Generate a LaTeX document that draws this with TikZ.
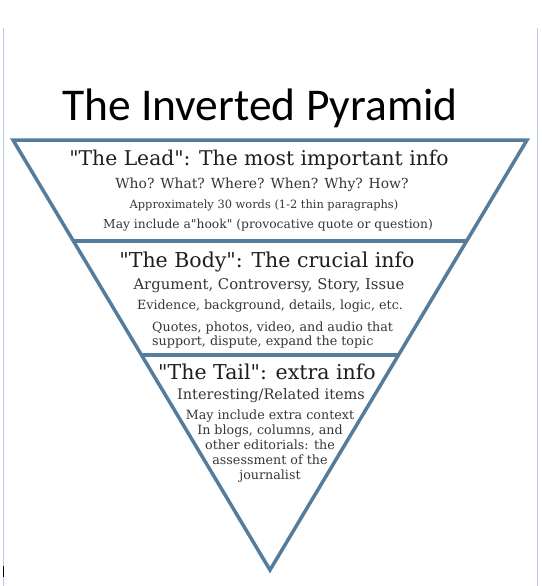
\documentclass[tikz,border=0pt]{standalone}
\usepackage{fontspec}
\newfontfamily\pyrfont{DejaVu Serif}
\newfontfamily\titlefont{Carlito}
\usetikzlibrary{positioning,calc}
\definecolor{pyrcol}{RGB}{84,124,156}
\definecolor{pagecol}{RGB}{182,202,236}
\definecolor{txtcol}{RGB}{30,30,30}

\begin{document}
\begin{tikzpicture}[
  x=1pt, y=-1pt,
  head/.style={anchor=base, inner sep=0pt, text=txtcol, font=\pyrfont\fontsize{#1}{22}\selectfont},
  head/.default={20.5},
  item/.style={anchor=base, inner sep=0pt, text=txtcol!90, font=\pyrfont\fontsize{#1}{15}\selectfont},
  item/.default={12.7},
  tier/.style={draw=pyrcol, line width=3.5pt},
]
  \useasboundingbox (0,0) rectangle (541,586);

  % page edges
  \draw[pagecol, line width=1pt] (3.5,28) -- (3.5,586);
  \draw[pagecol, line width=1pt] (537.5,28) -- (537.5,586);
  \draw[black, line width=1pt] (3.5,566) -- (3.5,577);

  % title
  \node[anchor=base, inner sep=0pt, font=\titlefont\fontsize{45.5}{50}\selectfont] (title) at (260,120) {The Inverted Pyramid};

  % the pyramid
  \coordinate (tl) at (13,140);
  \coordinate (tr) at (527,140);
  \coordinate (apex) at (270,570);
  \draw[tier] (tl) -- (tr) -- (apex) -- cycle;
  \draw[tier] ($(tl)!0.235!(apex)$) -- ($(tr)!0.235!(apex)$);
  \draw[tier] ($(tl)!0.5!(apex)$) -- ($(tr)!0.5!(apex)$);

  % Lead
  \node[head=20.3] (lead) at (259,165) {"The Lead": The most important info};
  \node[item=13.9] (who) at (262,188) {Who? What? Where? When? Why? How?};
  \node[item=11.4] (words) at (264,208) {Approximately 30 words (1-2 thin paragraphs)};
  \node[item=12.3] (hook) at (268,228) {May include a"hook" (provocative quote or question)};

  % Body
  \node[head] (body) at (267,267) {"The Body": The crucial info};
  \node[item=14.8] (arg) at (269,289) {Argument, Controversy, Story, Issue};
  \node[item] (evid) at (270,309) {Evidence, background, details, logic, etc.};
  \node[item, anchor=north west, align=left, font=\pyrfont\fontsize{12.7}{14}\selectfont] (quotes) at (152,321.5) {Quotes, photos, video, and audio that\\support, dispute, expand the topic};

  % Tail
  \node[head] (tail) at (267,379) {"The Tail": extra info};
  \node[item=14.5] (related) at (271,399) {Interesting/Related items};
  \node[item, anchor=north, align=center] (extra) at (270,409.5) {May include extra context\\In blogs, columns, and\\other editorials: the\\assessment of the\\journalist};
\end{tikzpicture}
\end{document}
